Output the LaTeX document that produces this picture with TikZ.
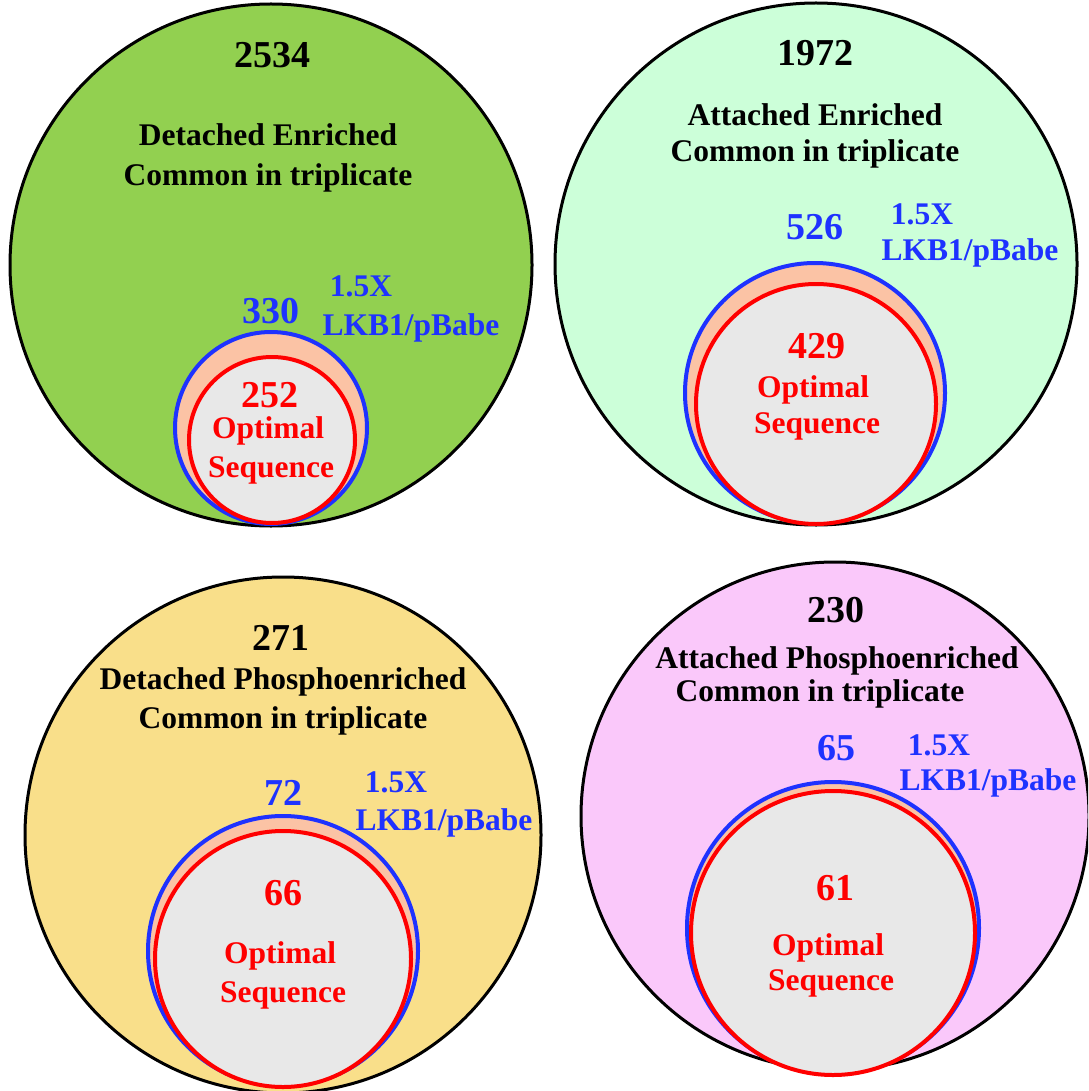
\documentclass[tikz,border=0pt]{standalone}
\usepackage{fontspec}
\setmainfont{Liberation Serif}
\definecolor{cgreen}{HTML}{92D050}
\definecolor{cmint}{HTML}{CCFFD9}
\definecolor{cyellow}{HTML}{F9DF8A}
\definecolor{cpink}{HTML}{FAC8FA}
\definecolor{peach}{HTML}{FBC3A5}
\definecolor{innergray}{HTML}{E8E8E8}
\definecolor{vblue}{HTML}{1E32FF}
\definecolor{vred}{HTML}{FF0000}
\begin{document}
\begin{tikzpicture}[x=1pt,y=-1pt,
  outer/.style={circle, draw=black, line width=3pt, inner sep=0pt},
  bluec/.style={circle, draw=vblue, fill=peach, line width=4pt, inner sep=0pt},
  redc/.style={circle, draw=vred, fill=innergray, line width=4pt, inner sep=0pt},
  num/.style={font=\bfseries\fontsize{38}{40}\selectfont, anchor=base, inner sep=0pt},
  lab/.style={font=\bfseries\fontsize{31.5}{34}\selectfont, anchor=base, inner sep=0pt},
]
\useasboundingbox (0,0) rectangle (1088,1091);
\clip (0,0) rectangle (1088,1091);
\fill[white] (0,0) rectangle (1088,1091);

% ---- top left ----
\node[outer, fill=cgreen, minimum size=522pt] (tlO) at (271,265) {};
\node[bluec, minimum size=192pt] (tlB) at (271,428) {};
\node[redc, minimum size=166pt] (tlR) at (272,440) {};
\node[num] (tlN) at (272,68) {2534};
\node[lab] (tlL1) at (268,146) {Detached Enriched};
\node[lab] (tlL2) at (268,186) {Common in triplicate};
\node[num, text=vblue] (tlBN) at (271,323) {330};
\node[lab, text=vblue] (tlX) at (361,296) {1.5X};
\node[lab, text=vblue] (tlLK) at (411,335) {LKB1/pBabe};
\node[num, text=vred] (tlRN) at (270,407) {252};
\node[lab, text=vred] (tlO1) at (268,438) {Optimal};
\node[lab, text=vred] (tlO2) at (271,477) {Sequence};

% ---- top right ----
\node[outer, fill=cmint, minimum size=522pt] (trO) at (816,264) {};
\node[bluec, minimum size=260pt] (trB) at (815,393) {};
\node[redc, minimum size=240pt] (trR) at (816,404) {};
\node[num] (trN) at (815,66) {1972};
\node[lab] (trL1) at (815,126) {Attached Enriched};
\node[lab] (trL2) at (815,162) {Common in triplicate};
\node[num, text=vblue] (trBN) at (815,240) {526};
\node[lab, text=vblue] (trX) at (922,225) {1.5X};
\node[lab, text=vblue] (trLK) at (970,260) {LKB1/pBabe};
\node[num, text=vred] (trRN) at (817,358) {429};
\node[lab, text=vred] (trO1) at (813,397) {Optimal};
\node[lab, text=vred] (trO2) at (817,433) {Sequence};

% ---- bottom left ----
\node[outer, fill=cyellow, minimum size=516pt] (blO) at (283,835) {};
\node[bluec, minimum size=270pt] (blB) at (283,951) {};
\node[redc, minimum size=256pt] (blR) at (283,959) {};
\node[num] (blN) at (281,650) {271};
\node[lab] (blL1) at (283,689) {Detached Phosphoenriched};
\node[lab] (blL2) at (283,728) {Common in triplicate};
\node[num, text=vblue] (blBN) at (283,805) {72};
\node[lab, text=vblue] (blX) at (396,792) {1.5X};
\node[lab, text=vblue] (blLK) at (444,830) {LKB1/pBabe};
\node[num, text=vred] (blRN) at (283,905) {66};
\node[lab, text=vred] (blO1) at (280,963) {Optimal};
\node[lab, text=vred] (blO2) at (283,1002) {Sequence};

% ---- bottom right ----
\node[outer, fill=cpink, minimum size=508pt] (brO) at (835,816) {};
\node[bluec, minimum size=292pt] (brB) at (833,928) {};
\node[redc, minimum size=284pt] (brR) at (833,933) {};
\node[num] (brN) at (836,622) {230};
\node[lab] (brL1) at (837,668) {Attached Phosphoenriched};
\node[lab] (brL2) at (820,701) {Common in triplicate};
\node[num, text=vblue] (brBN) at (836,760) {65};
\node[lab, text=vblue] (brX) at (939,755) {1.5X};
\node[lab, text=vblue] (brLK) at (988,790) {LKB1/pBabe};
\node[num, text=vred] (brRN) at (835,900) {61};
\node[lab, text=vred] (brO1) at (828,955) {Optimal};
\node[lab, text=vred] (brO2) at (831,990) {Sequence};
\end{tikzpicture}
\end{document}
